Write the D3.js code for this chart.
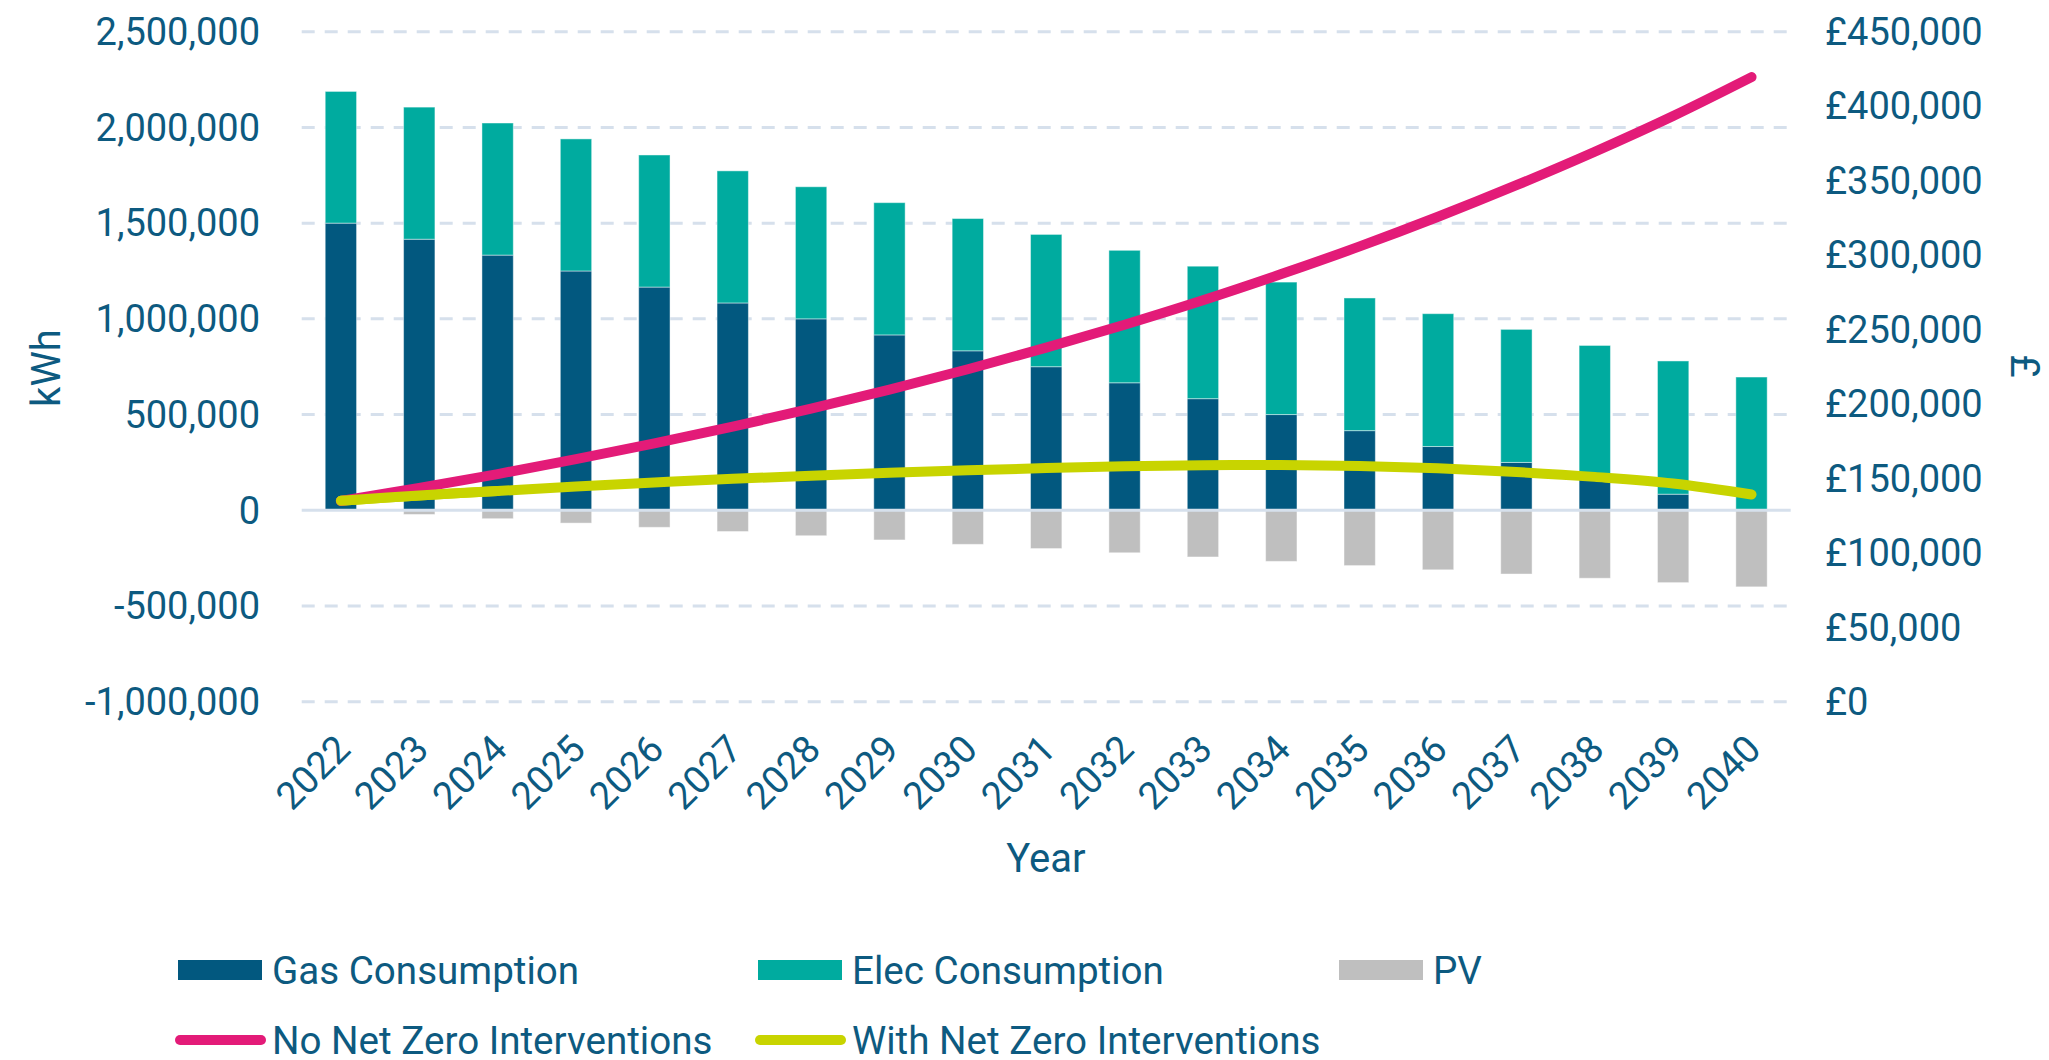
<!DOCTYPE html>
<html>
<head>
<meta charset="utf-8">
<script src="https://cdn.jsdelivr.net/npm/d3@7"></script>
<style>
  html,body{margin:0;padding:0;background:#fff;}
  svg{display:block;font-family:Roboto,"Noto Sans",sans-serif;}
</style>
</head>
<body>
<div id="chart"></div>
<script>
const years = ['2022','2023','2024','2025','2026','2027','2028','2029','2030','2031','2032','2033','2034','2035','2036','2037','2038','2039','2040'];
const gas  = [1500000,1416000,1333000,1250000,1166000,1083000,1000000,916000,833000,750000,666000,583000,500000,416000,333000,250000,166000,84000,0];
const elec = [688000,690000,690000,690000,690000,690000,690000,691000,691000,691000,692000,692000,692000,693000,694000,695000,695000,696000,696000];
const pv   = [0,-22000,-44000,-67000,-89000,-111000,-133000,-155000,-178000,-200000,-222000,-244000,-267000,-289000,-311000,-333000,-355000,-378000,-400000];
const noNetZero   = [134800,143600,152900,162900,173500,184700,196800,209600,223300,237800,253200,269600,287200,305800,325700,346900,369400,393400,419500];
const withNetZero = [135000,138500,141500,144500,147200,149700,151800,153700,155400,156900,158100,158800,158900,158300,156800,154300,151000,146600,139200];
const kwhTicks = [-1000000,-500000,0,500000,1000000,1500000,2000000,2500000];
const gbpTicks = [0,50000,100000,150000,200000,250000,300000,350000,400000,450000];

const W = 2049, H = 1060;
const INK = '#0d5a80';
const C = {gas:'#02587f', elec:'#00ab9f', pv:'#bfbfbf', pink:'#e31b78', lime:'#c8d400', grid:'#d6e0ec'};

const svg = d3.select('#chart').append('svg').attr('width',W).attr('height',H);

const x = d3.scaleBand().domain(years).range([301.7,1790.7]).paddingInner(0.6).paddingOuter(0.3);
const y = d3.scaleLinear().domain([-1000000,2500000]).range([701.7,31.7]);
const y2 = d3.scaleLinear().domain([0,450000]).range([701.7,31.7]);
const cx = d => x(d) + x.bandwidth()/2;

// gridlines (dashed) - zero line drawn later, solid
svg.append('g').selectAll('line').data(kwhTicks.filter(v=>v!==0)).join('line')
  .attr('x1',301.7).attr('x2',1790.7)
  .attr('y1',d=>y(d)).attr('y2',d=>y(d))
  .attr('stroke',C.grid).attr('stroke-width',3).attr('stroke-dasharray','13,10');

// stacked bars
const rows = years.map((yr,i)=>({yr, gas:gas[i], elec:elec[i], pv:pv[i]}));
const bars = svg.append('g');
const barStyle = s => s.attr('stroke','#ffffff').attr('stroke-opacity',0.45).attr('stroke-width',1);
bars.selectAll('rect.gas').data(rows).join('rect').attr('class','gas')
  .attr('x',d=>x(d.yr)).attr('width',x.bandwidth())
  .attr('y',d=>y(d.gas)).attr('height',d=>y(0)-y(d.gas))
  .attr('fill',C.gas).call(barStyle);
bars.selectAll('rect.elec').data(rows).join('rect').attr('class','elec')
  .attr('x',d=>x(d.yr)).attr('width',x.bandwidth())
  .attr('y',d=>y(d.gas+d.elec)).attr('height',d=>y(d.gas)-y(d.gas+d.elec))
  .attr('fill',C.elec).call(barStyle);
bars.selectAll('rect.pv').data(rows.filter(d=>d.pv<0)).join('rect').attr('class','pv')
  .attr('x',d=>x(d.yr)).attr('width',x.bandwidth())
  .attr('y',y(0)).attr('height',d=>y(d.pv)-y(0))
  .attr('fill',C.pv).call(barStyle);

// zero axis line
svg.append('line').attr('x1',301.7).attr('x2',1790.7).attr('y1',y(0)).attr('y2',y(0))
  .attr('stroke',C.grid).attr('stroke-width',3);

// cost lines
const line = d3.line().x((d,i)=>cx(years[i])).y(d=>y2(d)).curve(d3.curveCatmullRom.alpha(0.5));
svg.append('path').datum(withNetZero).attr('d',line).attr('fill','none')
  .attr('stroke',C.lime).attr('stroke-width',10).attr('stroke-linecap','round').attr('stroke-linejoin','round');
svg.append('path').datum(noNetZero).attr('d',line).attr('fill','none')
  .attr('stroke',C.pink).attr('stroke-width',10).attr('stroke-linecap','round').attr('stroke-linejoin','round');
// lime drawn again near the start so it sits over pink where they meet
svg.append('path').datum(withNetZero.slice(0,3)).attr('d',line).attr('fill','none')
  .attr('stroke',C.lime).attr('stroke-width',10).attr('stroke-linecap','round');

// left axis labels (plain hyphen for negatives, as in the source)
const fmt = v => d3.format(',')(v).replace('\u2212','-');
svg.append('g').selectAll('text').data(kwhTicks).join('text')
  .attr('x',260).attr('y',d=>y(d)).attr('dy','0.35em')
  .attr('text-anchor','end').attr('font-size',38).attr('fill',INK)
  .text(d=>fmt(d));

// right axis labels
svg.append('g').selectAll('text').data(gbpTicks).join('text')
  .attr('x',1825).attr('y',d=>y2(d)).attr('dy','0.35em')
  .attr('text-anchor','start').attr('font-size',38).attr('fill',INK)
  .text(d=>'£'+fmt(d));

// x labels
svg.append('g').selectAll('text').data(years).join('text')
  .attr('transform',d=>`translate(${cx(d)+2},742) rotate(-45)`)
  .attr('dy','0.35em').attr('text-anchor','end')
  .attr('font-size',38).attr('fill',INK).text(d=>d);

// axis titles
svg.append('text').attr('transform','translate(46,368) rotate(-90)')
  .attr('dy','0.35em').attr('text-anchor','middle').attr('font-size',40).attr('fill',INK).text('kWh');
svg.append('text').attr('transform','translate(2025,366) rotate(90)')
  .attr('dy','0.35em').attr('text-anchor','middle').attr('font-size',40).attr('fill',INK).text('£');
svg.append('text').attr('x',1046).attr('y',858).attr('dy','0.35em')
  .attr('text-anchor','middle').attr('font-size',40).attr('fill',INK).text('Year');

// legend
const legendBars = [
  {name:'Gas Consumption', color:C.gas, x:178},
  {name:'Elec Consumption', color:C.elec, x:758},
  {name:'PV', color:C.pv, x:1339}
];
const legendLines = [
  {name:'No Net Zero Interventions', color:C.pink, x:178},
  {name:'With Net Zero Interventions', color:C.lime, x:758}
];
const lg = svg.append('g');
const lb = lg.selectAll('g.lb').data(legendBars).join('g').attr('class','lb');
lb.append('rect').attr('x',d=>d.x).attr('y',960).attr('width',84).attr('height',20).attr('fill',d=>d.color);
lb.append('text').attr('x',d=>d.x+94).attr('y',970).attr('dy','0.35em')
  .attr('font-size',38.6).attr('fill',INK).text(d=>d.name);
const ll = lg.selectAll('g.ll').data(legendLines).join('g').attr('class','ll');
ll.append('line').attr('x1',d=>d.x+2).attr('x2',d=>d.x+83).attr('y1',1040).attr('y2',1040)
  .attr('stroke',d=>d.color).attr('stroke-width',10).attr('stroke-linecap','round');
ll.append('text').attr('x',d=>d.x+94).attr('y',1040).attr('dy','0.35em')
  .attr('font-size',38.6).attr('fill',INK).text(d=>d.name);
</script>
</body>
</html>
